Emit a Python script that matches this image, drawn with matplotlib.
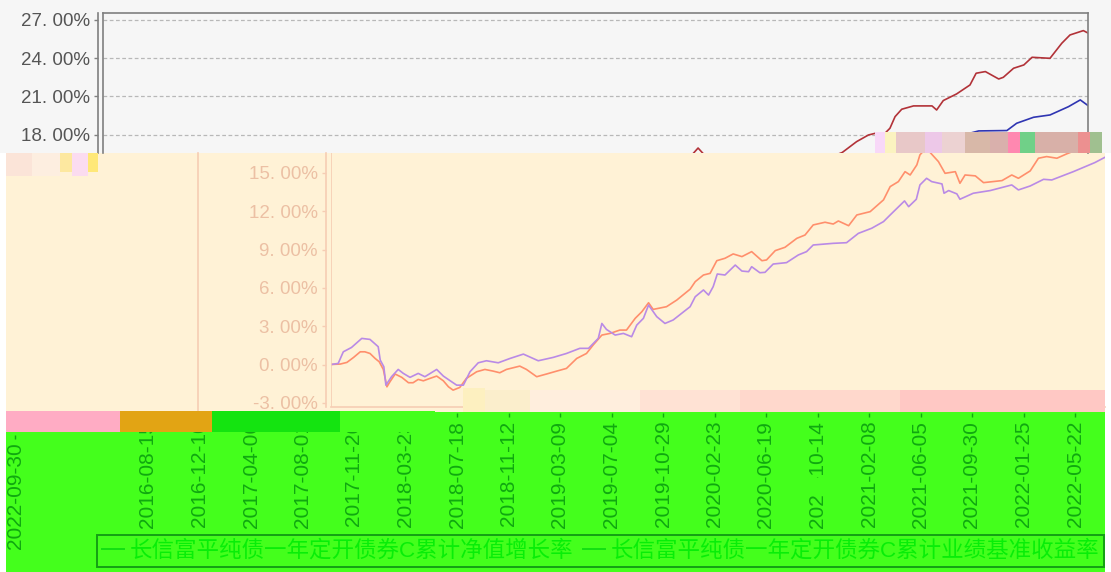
import matplotlib as mpl
mpl.use('Agg')

import matplotlib.pyplot as plt
from matplotlib.lines import Line2D
from matplotlib.patches import Rectangle

plt.rcParams['font.family'] = ['Liberation Sans', 'Noto Sans CJK SC', 'DejaVu Sans']

W, H = 1111, 572

# x is in tick steps from the first date label (2016-08-15)
nav_x = [0.01, 0.18, 0.31, 0.44, 0.57, 0.66, 0.76, 0.86, 0.94, 1.02, 1.09, 1.15, 1.25, 1.38, 1.51, 1.60,
         1.70, 1.80, 1.93, 2.06, 2.19, 2.29, 2.38, 2.51, 2.64, 2.84, 3.00, 3.16, 3.29, 3.42, 3.68, 3.81,
         4.01, 4.20, 4.40, 4.59, 4.79, 4.98, 5.11, 5.28, 5.44, 5.63, 5.76, 5.93, 6.06, 6.19, 6.28, 6.54,
         6.74, 7.00, 7.10, 7.26, 7.39, 7.52, 7.68, 7.84, 8.01, 8.20, 8.40, 8.49, 8.66, 8.85, 9.08, 9.24,
         9.40, 9.63, 9.79, 9.89, 10.09, 10.25, 10.51, 10.77, 10.90, 11.06, 11.19, 11.29, 11.42, 11.48,
         11.60, 11.84, 11.97, 12.17, 12.26, 12.36, 12.56, 12.72, 13.08, 13.27, 13.40, 13.63, 13.79, 13.95,
         14.15, 14.34, 14.41, 14.69, 14.92, 15.05, 15.21, 15.34, 15.44, 15.57, 15.80, 16.16, 16.25, 16.38,
         16.64, 16.90, 17.02, 17.20, 17.46, 17.55, 17.75, 17.95, 18.11, 18.46, 18.69, 18.85, 19.11, 19.21]
nav_y = [0.01, 0.04, 0.17, 0.56, 1.00, 1.00, 0.87, 0.48, 0.22, -0.38, -1.74, -1.34, -0.74, -1.00, -1.42, -1.42,
         -1.16, -1.27, -1.08, -0.90, -1.27, -1.74, -2.00, -1.79, -1.08, -0.56, -0.38, -0.51, -0.64, -0.38, -0.12, -0.38,
         -0.95, -0.74, -0.51, -0.30, 0.48, 0.87, 1.53, 2.31, 2.44, 2.70, 2.70, 3.62, 4.14, 4.84, 4.32, 4.53,
         5.05, 5.90, 6.49, 7.01, 7.14, 8.13, 8.32, 8.66, 8.45, 8.84, 8.13, 8.19, 8.92, 9.18, 9.88, 10.14,
         10.93, 11.14, 11.00, 11.24, 10.87, 11.71, 11.97, 12.89, 13.93, 14.32, 15.10, 14.84, 15.63, 16.41,
         16.95, 15.89, 14.97, 15.10, 14.19, 14.84, 14.77, 14.24, 14.40, 14.84, 14.58, 15.16, 16.15, 16.28,
         16.15, 16.49, 16.60, 17.45, 17.97, 18.10, 17.97, 18.50, 19.41, 19.99, 20.25, 20.25, 19.93, 20.67,
         21.19, 21.89, 22.81, 22.94, 22.36, 22.49, 23.20, 23.46, 24.06, 23.98, 25.16, 25.81, 26.15, 25.94]

base_x = [0.01, 0.14, 0.24, 0.40, 0.60, 0.76, 0.92, 0.96, 1.03, 1.07, 1.18, 1.31, 1.41, 1.54, 1.70, 1.83,
          2.06, 2.19, 2.35, 2.45, 2.58, 2.71, 2.87, 3.03, 3.26, 3.49, 3.75, 4.04, 4.33, 4.59, 4.85, 5.02,
          5.21, 5.28, 5.37, 5.54, 5.70, 5.86, 5.96, 6.09, 6.19, 6.35, 6.51, 6.67, 7.00, 7.10, 7.26, 7.36,
          7.45, 7.53, 7.68, 7.88, 8.01, 8.14, 8.20, 8.36, 8.46, 8.62, 8.88, 9.11, 9.27, 9.40, 9.79, 10.05,
          10.28, 10.54, 10.77, 10.90, 11.18, 11.26, 11.41, 11.48, 11.61, 11.71, 11.91, 11.95, 12.04, 12.20,
          12.26, 12.52, 12.85, 13.27, 13.40, 13.63, 13.89, 14.05, 14.47, 14.89, 15.09, 15.40, 15.80, 16.20,
          16.60, 17.07, 17.62, 17.81, 18.14, 18.46, 18.82, 19.05, 19.21]
base_y = [0.01, 0.09, 1.00, 1.34, 2.05, 1.97, 1.40, 0.35, -0.17, -1.61, -0.95, -0.38, -0.69, -1.00, -0.69, -0.95,
          -0.38, -0.90, -1.34, -1.61, -1.61, -0.56, 0.14, 0.30, 0.14, 0.48, 0.82, 0.30, 0.56, 0.87, 1.27, 1.27,
          2.05, 3.22, 2.75, 2.31, 2.44, 2.18, 3.09, 3.62, 4.66, 3.75, 3.22, 3.49, 4.53, 5.31, 5.84, 5.44,
          6.10, 7.09, 7.01, 7.79, 7.32, 7.27, 7.66, 7.19, 7.22, 7.87, 7.98, 8.58, 8.84, 9.36, 9.49, 9.54,
          10.27, 10.67, 11.19, 11.71, 12.81, 12.36, 12.94, 14.06, 14.58, 14.32, 14.14, 13.41, 13.62, 13.36,
          12.94, 13.41, 13.62, 14.06, 13.67, 13.98, 14.50, 14.45, 15.10, 15.81, 16.23, 16.70, 17.10, 17.40,
          17.80, 18.29, 18.32, 18.89, 19.36, 19.54, 20.19, 20.72, 20.25]

date_labels = ['2016-08-15', '2016-12-10', '2017-04-06', '2017-08-01', '2017-11-26', '2018-03-23',
               '2018-07-18', '2018-11-12', '2019-03-09', '2019-07-04', '2019-10-29', '2020-02-23',
               '2020-06-19', '2020-10-14', '2021-02-08', '2021-06-05', '2021-09-30', '2022-01-25',
               '2022-05-22']
last_label = '2022-09-30'
top_ticks = [18, 21, 24, 27]
low_ticks = [-3, 0, 3, 6, 9, 12, 15]
series_names = ['长信富平纯债一年定开债券C累计净值增长率', '长信富平纯债一年定开债券C累计业绩基准收益率']

STEP = 51.3
V_TOP = 27.53
V_CUT = 16.56
V_LOW = -3.32


def rect(l, t, r, b):
    return [l / W, 1 - b / H, (r - l) / W, (b - t) / H]


def block(l, t, r, b, color, z=3):
    fig.add_artist(Rectangle((l / W, 1 - b / H), (r - l) / W, (b - t) / H, transform=fig.transFigure,
                             facecolor=color, edgecolor='none', zorder=z))


def fig_line(x0, y0, x1, y1, color, lw=1.2, z=2):
    fig.add_artist(Line2D([x0 / W, x1 / W], [1 - y0 / H, 1 - y1 / H], transform=fig.transFigure,
                          color=color, lw=lw, zorder=z))


def pct(v):
    return '%d. 00%%' % v


fig = plt.figure(figsize=(W / 100, H / 100), dpi=100, facecolor='white')

# the three colour bands
block(0, 0, W, 153, '#f6f6f6', -1)
block(6, 153, 1105, 412, '#fff2d6', -1)
block(6, 412, 1105, 572, '#44ff1c', -1)

# top panel
ax1 = fig.add_axes(rect(103, 13, 1088, 153), facecolor='none', zorder=1)
ax1.spines['left'].set_position(('outward', 3.6))  # resets ticks, so do it first
ax1.plot(nav_x, nav_y, color='#b23238', lw=1.2)
ax1.plot(base_x, base_y, color='#2f35b2', lw=1.2)
ax1.set_xlim(0, (1088 - 103) / STEP)
ax1.set_ylim(V_CUT, V_TOP)
ax1.set_xticks([])
ax1.set_yticks(top_ticks)
ax1.set_yticklabels([pct(v) for v in top_ticks], fontsize=13.5, color='#555555')
ax1.tick_params(axis='y', length=3, width=1, color='#808080', pad=3)
ax1.grid(axis='y', color='#b8b8b8', lw=0.9, ls=(0, (3, 2)))
ax1.set_axisbelow(True)
ax1.spines['bottom'].set_visible(False)
for s in ['top', 'right', 'left']:
    ax1.spines[s].set_color('#808080')
    ax1.spines[s].set_linewidth(1.2)
ax1.axvline(0, color='#808080', lw=1.2, clip_on=False)

# cream band, same data drawn further right and faded
ax2 = fig.add_axes(rect(331, 153, 1105, 407), facecolor='none', zorder=1)
ax2.spines['left'].set_position(('outward', 3.6))
ax2.plot(nav_x, nav_y, color='#ff8f6c', lw=1.2)
ax2.plot(base_x, base_y, color='#b98ae6', lw=1.2)
ax2.set_xlim(0, (1105 - 331) / STEP)
ax2.set_ylim(V_LOW, V_CUT)
ax2.set_xticks([])
ax2.set_yticks(low_ticks)
ax2.set_yticklabels([pct(v) for v in low_ticks], fontsize=13.5, color='#ecc0a4')
ax2.tick_params(axis='y', length=3, width=1, color='#f6cdb4', pad=3)
ax2.spines['top'].set_visible(False)
ax2.spines['right'].set_visible(False)
for s in ['left', 'bottom']:
    ax2.spines[s].set_color('#f6cdb4')
    ax2.spines[s].set_linewidth(1.2)
ax2.axvline(0, color='#f6cdb4', lw=1.2)
fig_line(198, 153, 198, 412, '#f6cdb4')

# date labels in the green band
ax3 = fig.add_axes(rect(148, 412, 1105, 413), facecolor='none', zorder=1)
ax3.set_xlim(0, (1105 - 148) / 51.5)
ax3.set_yticks([])
ax3.set_xticks(range(len(date_labels)))
ax3.set_xticklabels(date_labels, rotation=90, fontsize=15, color='#10a810')
ax3.tick_params(axis='x', length=3, width=1, color='#10a810', pad=2.5)
for s in ax3.spines.values():
    s.set_visible(False)

ax4 = fig.add_axes(rect(6, 434, 30, 435), facecolor='none', zorder=1)
ax4.set_xlim(-9 / 51.5, 15 / 51.5)
ax4.set_yticks([])
ax4.set_xticks([0])
ax4.set_xticklabels([last_label], rotation=90, fontsize=15, color='#10a810')
ax4.tick_params(axis='x', length=3, width=1, color='#10a810', pad=2.5)
for s in ax4.spines.values():
    s.set_visible(False)

# broken strips
for l, t, r, b, c in [(875, 132, 885, 153, '#f8d8f8'), (885, 132, 896, 153, '#fbf3c0'), (896, 132, 925, 153, '#e8c8c8'),
                      (925, 132, 942, 153, '#edc8e8'), (942, 132, 965, 153, '#ecd2d2'), (965, 132, 990, 153, '#d8b8a8'),
                      (990, 132, 1008, 153, '#d9b0ac'), (1008, 132, 1020, 153, '#ff88b0'), (1020, 132, 1035, 153, '#70d088'),
                      (1035, 132, 1078, 153, '#d8b0a8'), (1078, 132, 1090, 153, '#ec9090'), (1090, 132, 1102, 153, '#a0c090'),
                      (6, 153, 32, 176, '#fbe4d8'), (32, 153, 60, 176, '#fdeee0'), (60, 153, 72, 172, '#fde8a0'),
                      (72, 153, 88, 176, '#fbdcf0'), (88, 153, 98, 172, '#ffe878'),
                      (463, 388, 485, 412, '#fdf0c0'), (485, 390, 530, 412, '#fbeecc'), (530, 390, 640, 412, '#ffeedd'),
                      (640, 390, 740, 412, '#ffe2d4'), (740, 390, 900, 412, '#ffd8cc'), (900, 390, 1105, 412, '#ffc8c4'),
                      (6, 411, 120, 432, '#ffacc4'), (120, 411, 212, 432, '#e2a414'), (212, 411, 340, 432, '#14e410'),
                      (340, 411, 435, 432, '#44ff1c'), (808, 478, 830, 495, '#44ff1c')]:
    block(l, t, r, b, c)

handles = [Line2D([], [], color='#12e012', lw=1.4), Line2D([], [], color='#12e012', lw=1.4)]
leg = fig.legend(handles, series_names, ncol=2, loc='center', bbox_to_anchor=(600.5 / W, 1 - 551 / H),
                 fontsize=16.2, labelcolor='#08ee08', facecolor='#44ff1c', edgecolor='#14a014', framealpha=1,
                 fancybox=False, handlelength=1.0, handletextpad=0.25, columnspacing=0.4, borderpad=0.22,
                 borderaxespad=0)
leg.get_frame().set_linewidth(1.4)

plt.savefig('out.png', dpi=100)
